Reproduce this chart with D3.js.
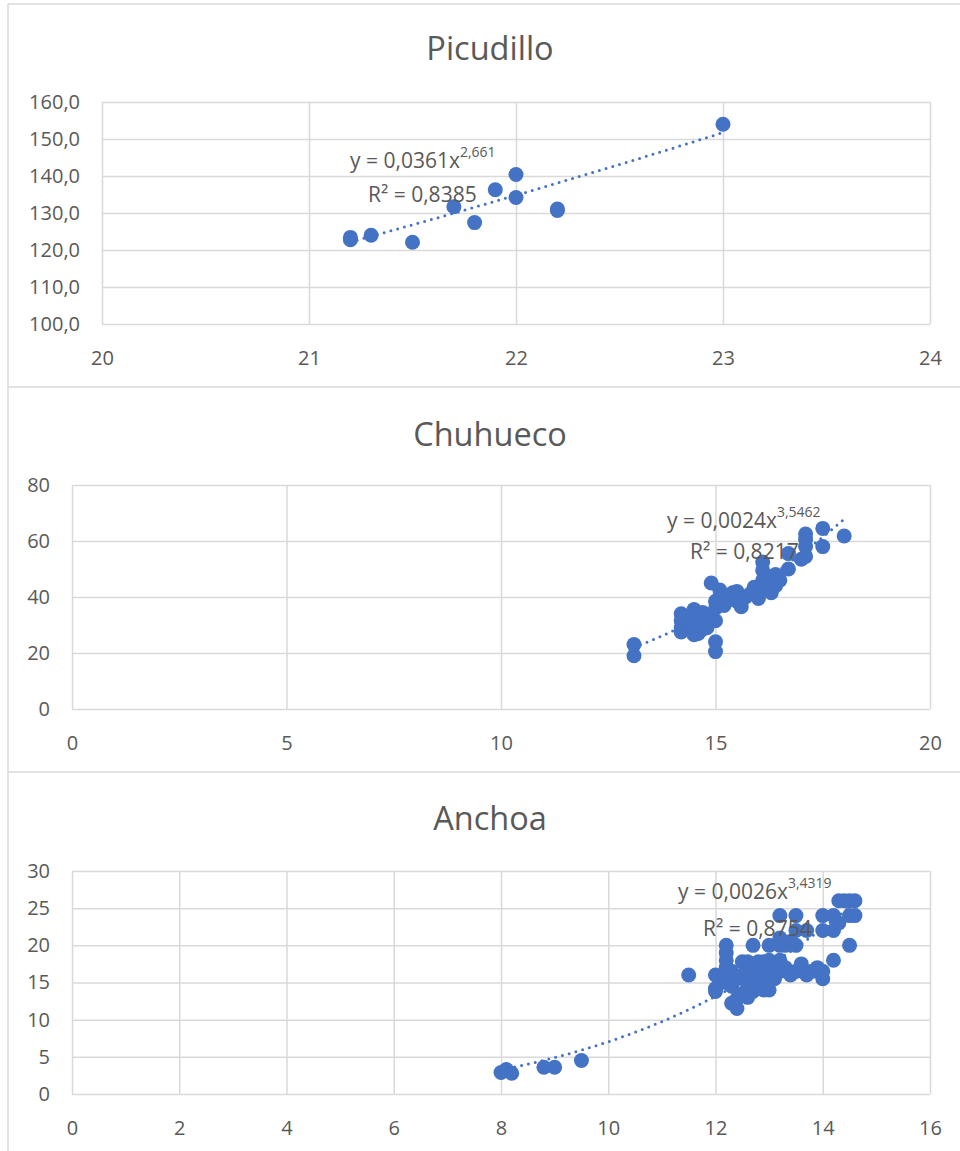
<!DOCTYPE html>
<html><head><meta charset="utf-8">
<script src="https://cdn.jsdelivr.net/npm/d3@7"></script>
<style>
body{margin:0;background:#fff;}
svg{display:block;font-family:"Open Sans","Noto Sans",sans-serif;}
</style></head>
<body><svg id="c" width="960" height="1151"></svg>
<script>
// ---------- DATA ----------
const titles = ["Picudillo", "Chuhueco", "Anchoa"];

const picudilloX = [21.2, 21.2, 21.3, 21.5, 21.7, 21.8, 21.9, 22.0, 22.0, 22.2, 22.2, 23.0];
const picudilloY = [123.4, 122.8, 124.0, 122.1, 131.7, 127.4, 136.3, 140.4, 134.2, 131.1, 130.7, 154.0];

const chuhuecoX = [13.1, 13.1, 14.2, 14.2, 14.2, 14.2, 14.3, 14.3, 14.4, 14.4, 14.5, 14.5, 14.5, 14.5, 14.6, 14.6, 14.6, 14.7, 14.7, 14.8, 14.8, 14.9, 14.9, 15.0, 15.0, 15.0, 15.0, 15.0, 15.1, 15.1, 15.2, 15.2, 15.3, 15.4, 15.5, 15.5, 15.6, 15.7, 15.8, 15.9, 16.0, 16.0, 16.1, 16.1, 16.1, 16.2, 16.2, 16.3, 16.3, 16.4, 16.4, 16.5, 16.7, 16.7, 17.0, 17.1, 17.1, 17.1, 17.1, 17.5, 17.5, 18.0];
const chuhuecoY = [23.0, 19.0, 34.0, 31.5, 29.0, 27.5, 30.5, 33.0, 28.5, 31.0, 35.5, 26.5, 29.5, 33.5, 27.0, 32.0, 30.0, 28.5, 34.5, 31.0, 29.0, 33.0, 45.0, 24.0, 20.5, 36.0, 31.5, 38.5, 40.0, 42.5, 37.0, 40.5, 39.0, 41.5, 42.0, 38.5, 36.5, 40.0, 41.0, 43.5, 41.5, 39.5, 52.5, 49.5, 46.0, 47.0, 44.0, 41.5, 43.0, 44.0, 48.0, 46.0, 50.0, 55.5, 53.5, 54.5, 58.0, 62.5, 60.5, 64.5, 58.0, 61.8];

const anchoaX = [8.0, 8.1, 8.2, 8.8, 9.0, 9.5, 11.5, 12.0, 12.0, 12.0, 12.1, 12.2, 12.2, 12.2, 12.2, 12.2, 12.2, 12.3, 12.3, 12.3, 12.4, 12.4, 12.4, 12.5, 12.5, 12.5, 12.6, 12.6, 12.6, 12.6, 12.7, 12.7, 12.7, 12.7, 12.8, 12.8, 12.8, 12.9, 12.9, 12.9, 13.0, 13.0, 13.0, 13.0, 13.1, 13.1, 13.1, 13.2, 13.2, 13.2, 13.2, 13.2, 13.3, 13.3, 13.4, 13.4, 13.5, 13.5, 13.5, 13.5, 13.6, 13.7, 13.7, 13.8, 13.9, 14.0, 14.0, 14.0, 14.0, 14.2, 14.2, 14.2, 14.3, 14.3, 14.4, 14.5, 14.5, 14.5, 14.6, 14.6];
const anchoaY = [2.9, 3.3, 2.8, 3.6, 3.6, 4.5, 16.0, 16.0, 14.2, 13.8, 15.0, 20.0, 19.0, 18.0, 17.0, 16.0, 15.0, 14.5, 16.5, 12.2, 11.5, 12.8, 15.5, 13.5, 17.8, 16.0, 13.0, 14.5, 16.5, 17.8, 15.0, 20.0, 13.8, 16.0, 17.8, 14.5, 16.5, 15.5, 14.0, 17.8, 18.0, 14.0, 16.5, 20.0, 15.5, 17.5, 16.0, 24.0, 21.0, 20.0, 18.0, 16.5, 17.0, 20.0, 16.0, 20.5, 24.0, 22.0, 20.0, 16.5, 17.5, 22.0, 16.0, 16.5, 17.0, 24.0, 22.0, 15.5, 16.5, 24.0, 22.0, 18.0, 26.0, 23.0, 26.0, 26.0, 24.0, 20.0, 26.0, 24.0];

// power trendline coefficients (y = a * x^b) and R²
const trendA = [0.0361, 0.0024, 0.0026];
const trendB = [2.661, 3.5462, 3.4319];
const eqText = ["y = 0,0361x", "y = 0,0024x", "y = 0,0026x"];
const eqExp = ["2,661", "3,5462", "3,4319"];
const r2Text = ["R² = 0,8385", "R² = 0,8217", "R² = 0,8754"];

// axis tick values
const xTicks = [[20, 21, 22, 23, 24], [0, 5, 10, 15, 20], [0, 2, 4, 6, 8, 10, 12, 14, 16]];
const yTicks = [[100, 110, 120, 130, 140, 150, 160], [0, 20, 40, 60, 80], [0, 5, 10, 15, 20, 25, 30]];

// ---------- LAYOUT ----------
const panels = [
  {xs: picudilloX, ys: picudilloY, left: 102, right: 930, top: 102, bottom: 324, titleY: 51,
   yFmt: d => d3.format(".1f")(d).replace(".", ","), eqX: 350, eqY: 168, r2X: 368, r2Y: 202},
  {xs: chuhuecoX, ys: chuhuecoY, left: 72, right: 930, top: 485, bottom: 709, titleY: 437,
   yFmt: d => String(d), eqX: 667, eqY: 528, r2X: 690, r2Y: 559},
  {xs: anchoaX, ys: anchoaY, left: 72, right: 930, top: 871, bottom: 1094, titleY: 821,
   yFmt: d => String(d), eqX: 678, eqY: 899, r2X: 703, r2Y: 936}
];
const blue = "#4472C4", grid = "#d9d9d9", txt = "#595959";

const svg = d3.select("#c");

// chart frames
svg.append("line").attr("x1", 8).attr("x2", 8).attr("y1", 4).attr("y2", 1151).attr("stroke", grid).attr("stroke-width", 1.5);
[4, 387, 772].forEach(y => svg.append("line").attr("x1", 8).attr("x2", 960).attr("y1", y).attr("y2", y).attr("stroke", grid).attr("stroke-width", 1.5));

panels.forEach((p, i) => {
  const xt = xTicks[i], yt = yTicks[i];
  const x = d3.scaleLinear().domain([xt[0], xt[xt.length - 1]]).range([p.left, p.right]);
  const y = d3.scaleLinear().domain([yt[0], yt[yt.length - 1]]).range([p.bottom, p.top]);
  const g = svg.append("g");

  // title
  g.append("text").attr("x", 490).attr("y", p.titleY).attr("text-anchor", "middle")
    .attr("dominant-baseline", "middle").attr("fill", txt).attr("font-size", 32.5).text(titles[i]);

  // gridlines + tick labels
  const gx = g.append("g").attr("transform", `translate(0,${p.bottom})`)
    .call(d3.axisBottom(x).tickValues(xt).tickSize(-(p.bottom - p.top)).tickPadding(27).tickFormat(d => String(d)));
  const gy = g.append("g").attr("transform", `translate(${p.left},0)`)
    .call(d3.axisLeft(y).tickValues(yt).tickSize(-(p.right - p.left)).tickPadding(22).tickFormat(p.yFmt));
  [gx, gy].forEach(a => {
    a.select(".domain").remove();
    a.selectAll("line").attr("stroke", grid).attr("stroke-width", 1.5);
    a.selectAll("text").attr("fill", txt).attr("font-size", 20).attr("font-family", "'Open Sans','Noto Sans',sans-serif");
  });

  // points
  const pts = p.xs.map((v, k) => [v, p.ys[k]]);
  g.append("g").selectAll("circle").data(pts).join("circle")
    .attr("cx", d => x(d[0])).attr("cy", d => y(d[1])).attr("r", 7.5).attr("fill", blue);

  // trendline (power fit evaluated across the data extent)
  const ext = d3.extent(p.xs);
  const tx = d3.range(0, 101).map(k => ext[0] + (ext[1] - ext[0]) * k / 100);
  const line = d3.line().x(d => x(d)).y(d => y(trendA[i] * Math.pow(d, trendB[i])));
  g.append("path").datum(tx).attr("d", line).attr("fill", "none").attr("stroke", blue)
    .attr("stroke-width", 3).attr("stroke-linecap", "round").attr("stroke-dasharray", "0,7");

  // equation labels
  const eq = g.append("text").attr("x", p.eqX).attr("y", p.eqY).attr("fill", txt).attr("font-size", 21);
  eq.append("tspan").text(eqText[i]);
  eq.append("tspan").attr("dy", -11).attr("font-size", 14).text(eqExp[i]);
  g.append("text").attr("x", p.r2X).attr("y", p.r2Y).attr("fill", txt).attr("font-size", 21).text(r2Text[i]);
});
</script></body></html>
